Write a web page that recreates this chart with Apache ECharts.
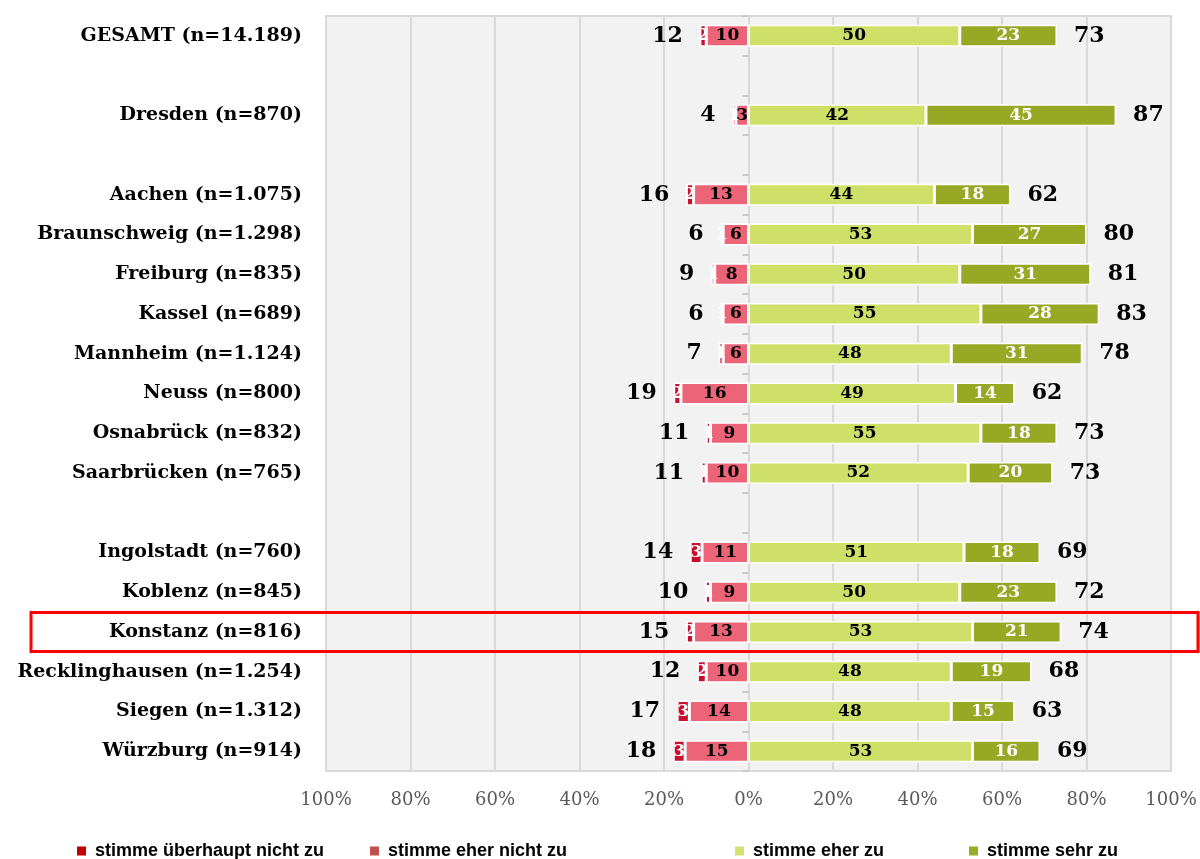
<!DOCTYPE html>
<html>
<head>
<meta charset="utf-8">
<script src="https://cdn.jsdelivr.net/npm/echarts@6/dist/echarts.min.js"></script>
<style>html,body{margin:0;padding:0;background:#fff}#c{width:1200px;height:859px}</style>
</head>
<body>
<div id="c"></div>
<script>
const categories = ['GESAMT (n=14.189)', ' ', 'Dresden (n=870)', '  ', 'Aachen (n=1.075)', 'Braunschweig (n=1.298)', 'Freiburg (n=835)', 'Kassel (n=689)', 'Mannheim (n=1.124)', 'Neuss (n=800)', 'Osnabrück (n=832)', 'Saarbrücken (n=765)', '   ', 'Ingolstadt (n=760)', 'Koblenz (n=845)', 'Konstanz (n=816)', 'Recklinghausen (n=1.254)', 'Siegen (n=1.312)', 'Würzburg (n=914)'];
const seriesNames = ['stimme überhaupt nicht zu', 'stimme eher nicht zu', 'stimme eher zu', 'stimme sehr zu'];
const stronglyDisagree = [1.5, null, 0.8, null, 1.7, 0.6, 0.8, 0.6, 1.0, 1.7, 1.0, 1.2, null, 2.8, 1.2, 1.7, 2.1, 2.9, 2.8];
const ratherDisagree = [10, null, 3, null, 13, 6, 8, 6, 6, 16, 9, 10, null, 11, 9, 13, 10, 14, 15];
const ratherAgree = [50, null, 42, null, 44, 53, 50, 55, 48, 49, 55, 52, null, 51, 50, 53, 48, 48, 53];
const stronglyAgree = [23, null, 45, null, 18, 27, 31, 28, 31, 14, 18, 20, null, 18, 23, 21, 19, 15, 16];
const totalDisagree = [12, null, 4, null, 16, 6, 9, 6, 7, 19, 11, 11, null, 14, 10, 15, 12, 17, 18];
const totalAgree = [73, null, 87, null, 62, 80, 81, 83, 78, 62, 73, 73, null, 69, 72, 74, 68, 63, 69];
const xTicks = {min: -100, max: 100, interval: 20};
const highlightCategory = 'Konstanz (n=816)';

const serif = 'DejaVu Serif';
const colors = {sd: '#c8102e', rd: '#eb6478', ra: '#cfe068', sa: '#96a824'};
const legendColors = ['#c00000', '#c0504d', '#d4e36f', '#9bab26'];

const neg = a => a.map(v => v == null ? null : -v);
const barLabel = (color) => ({
  show: true, position: 'inside', color: color, fontFamily: serif, fontWeight: 'bold', fontSize: 17,
  formatter: p => p.value == null ? '' : String(Math.round(Math.abs(p.value)))
});
const barBase = {type: 'bar', stack: 'all', barWidth: 22, itemStyle: {borderColor: '#fff', borderWidth: 1.5}};

const negTotals = [], posTotals = [];
categories.forEach((c, i) => {
  if (ratherDisagree[i] != null) {
    negTotals.push({value: [-(ratherDisagree[i] + stronglyDisagree[i]), i], t: totalDisagree[i]});
    posTotals.push({value: [ratherAgree[i] + stronglyAgree[i], i], t: totalAgree[i]});
  }
});
const totalLabel = pos => ({show: true, position: pos, distance: 17, color: '#000', opacity: 1, fontFamily: serif, fontWeight: 'bold', fontSize: 22,
  formatter: p => String(p.data.t)});

const chart = echarts.init(document.getElementById('c'), null, {renderer: 'canvas'});
const legendLeft = [75, 368, 733, 967];
chart.setOption({
  animation: false,
  grid: {left: 326, right: 29, top: 16, bottom: 88, show: true, backgroundColor: '#f2f2f2', borderColor: '#d9d9d9', borderWidth: 2},
  legend: seriesNames.map((n, i) => ({
    data: [{name: n, itemStyle: {color: legendColors[i]}}], left: legendLeft[i], top: 842, padding: 0, icon: 'rect', itemWidth: 11, itemHeight: 11,
    selectedMode: false,
    textStyle: {fontFamily: 'Liberation Sans', fontWeight: 'bold', fontSize: 18, color: '#000', padding: [0, 0, 0, 3]}
  })),
  xAxis: {
    type: 'value', min: xTicks.min, max: xTicks.max, interval: xTicks.interval,
    axisLine: {show: false}, axisTick: {show: false},
    splitLine: {lineStyle: {color: '#d9d9d9', width: 2}},
    axisLabel: {formatter: v => Math.abs(v) + '%', color: '#595959', fontFamily: serif, fontSize: 18, margin: 20}
  },
  yAxis: [{
    type: 'category', data: categories, inverse: true,
    axisLine: {show: false, onZero: false}, axisTick: {show: false},
    axisLabel: {color: '#000', fontFamily: serif, fontWeight: 'bold', fontSize: 19, margin: 24}
  }, {
    type: 'category', data: categories, inverse: true, position: 'left',
    axisLine: {show: false, onZero: true}, axisTick: {show: true, length: 6, lineStyle: {color: '#c8c8c8', width: 2}},
    axisLabel: {show: false}
  }],
  series: [
    Object.assign({}, barBase, {name: seriesNames[1], data: neg(ratherDisagree), itemStyle: Object.assign({}, barBase.itemStyle, {color: colors.rd}), label: barLabel('#000')}),
    Object.assign({}, barBase, {name: seriesNames[0], data: neg(stronglyDisagree), itemStyle: Object.assign({}, barBase.itemStyle, {color: colors.sd}), label: barLabel('#fff')}),
    Object.assign({}, barBase, {name: seriesNames[2], data: ratherAgree, itemStyle: Object.assign({}, barBase.itemStyle, {color: colors.ra}), label: barLabel('#000')}),
    Object.assign({}, barBase, {name: seriesNames[3], data: stronglyAgree, itemStyle: Object.assign({}, barBase.itemStyle, {color: colors.sa}), label: barLabel('#fff')}),
    {type: 'scatter', name: 'negTotal', symbolSize: 0, itemStyle: {opacity: 1}, data: negTotals, label: totalLabel('left'), silent: true},
    {type: 'scatter', name: 'posTotal', symbolSize: 0, itemStyle: {opacity: 1}, data: posTotals, label: totalLabel('right'), silent: true}
  ]
});
const cy = chart.convertToPixel({yAxisIndex: 0}, highlightCategory);
chart.setOption({graphic: [{type: 'rect', shape: {x: 31, y: cy - 19.5, width: 1167, height: 39}, style: {fill: 'none', stroke: '#ff0000', lineWidth: 3}, z: 100}]});
</script>
</body>
</html>
